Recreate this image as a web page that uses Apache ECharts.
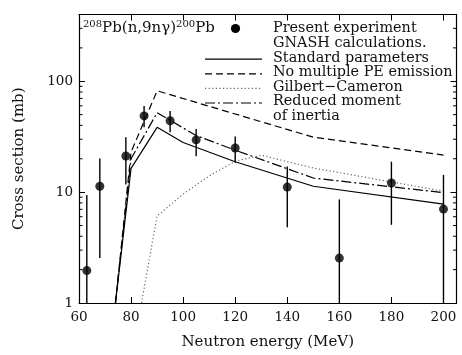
<!DOCTYPE html>
<html><head><meta charset="utf-8">
<script src="https://cdn.jsdelivr.net/npm/echarts@6/dist/echarts.min.js"></script>
<style>html,body{margin:0;padding:0;background:#fff}#c{width:462px;height:355px}</style>
</head><body><div id="c"></div>
<script>
// Measured data (Neutron energy in MeV, cross section in mb)
const energies = [63, 68, 78, 85, 95, 105, 120, 140, 160, 180, 200];
const sigma    = [1.96, 11.3, 21.2, 48.7, 44, 29.6, 25, 11.1, 2.54, 12.1, 7.03];
const errLow   = [0.5, 2.54, 11.7, 38.4, 34.7, 21.1, 18.4, 4.83, 0.5, 5.07, 0.5];
const errHigh  = [9.4, 20.1, 31.3, 59.7, 53.9, 37.1, 31.8, 17, 8.6, 18.8, 14.3];

// GNASH calculations
const stdE = [74, 80, 90, 100, 120, 150, 200];
const stdV = [1, 16.4, 38.4, 28, 18.8, 11.3, 7.8];
const noPeE = [74, 80, 90, 150, 200];
const noPeV = [1, 23, 82, 31.3, 21.6];
const gcE = [84, 90, 100, 110, 120, 130, 150, 200];
const gcV = [1, 6.1, 9.6, 14, 19, 21.5, 16.5, 10.2];
const rmE = [74, 80, 90, 105, 120, 150, 200];
const rmV = [1, 20, 52, 32.4, 23.9, 13.4, 9.9];

// Axis ticks
const xTickLabels = [60, 80, 100, 120, 140, 160, 180, 200];
const yTickLabels = [1, 10, 100];
const yMinorTicks = [2,3,4,5,6,7,8,9,20,30,40,50,60,70,80,90,200,300];

const legendLabels = ['Present experiment','GNASH calculations.','Standard parameters','No multiple PE emission','Gilbert\u2212Cameron','Reduced moment','of inertia'];

const FONT = '"DejaVu Serif", serif';
const INK = '#111';
const chart = echarts.init(document.getElementById('c'), null, {renderer: 'canvas'});

function xAx(pos, showLabel) {
  return {
    type: 'value', min: 60, max: 205, interval: 20, position: pos,
    axisLine: {show: true, onZero: false, lineStyle: {color: '#000', width: 1.2}},
    axisTick: {show: true, inside: true, length: 6, lineStyle: {color: '#000', width: 1}},
    axisLabel: {show: showLabel, fontFamily: FONT, fontSize: 13.5, color: INK, margin: 7,
      showMaxLabel: false,
      formatter: v => xTickLabels.indexOf(v) >= 0 ? String(v) : ''},
    splitLine: {show: false},
    name: showLabel ? 'Neutron energy (MeV)' : '', nameLocation: 'middle', nameGap: 32,
    nameTextStyle: {fontFamily: FONT, fontSize: 15, color: INK}
  };
}
function yAx(pos, showLabel) {
  return {
    type: 'log', logBase: 10, min: 1, max: 400, position: pos,
    axisLine: {show: true, onZero: false, lineStyle: {color: '#000', width: 1.2}},
    axisTick: {show: true, inside: true, length: 6, lineStyle: {color: '#000', width: 1}},
    axisLabel: {show: showLabel, fontFamily: FONT, fontSize: 13.5, color: INK, margin: 6,
      showMaxLabel: false,
      formatter: v => yTickLabels.indexOf(Math.round(v)) >= 0 ? String(Math.round(v)) : ''},
    splitLine: {show: false},
    name: showLabel ? 'Cross section (mb)' : '', nameLocation: 'middle', nameGap: 52,
    nameTextStyle: {fontFamily: FONT, fontSize: 15, color: INK}
  };
}

const pairs = (xs, ys) => xs.map((x, i) => [x, ys[i]]);
const lineSeries = (xs, ys, type, color, w) => ({
  type: 'line', xAxisIndex: 0, yAxisIndex: 0, data: pairs(xs, ys), symbol: 'none',
  lineStyle: {color: color, width: w, type: type}, clip: true, z: 2, silent: true
});

const legendX = 273, legendY0 = 30, legendDy = 14.6, sampleX1 = 205, sampleX2 = 262;
const graphics = [];
legendLabels.forEach((t, i) => {
  graphics.push({type: 'text', left: legendX, top: legendY0 + i * legendDy - 8.3,
    style: {text: t, font: '14.4px ' + FONT, fill: INK}});
});
const sampleStyles = [null, null, {lineDash: null, stroke: '#000'}, {lineDash: [7, 4], stroke: '#000'},
  {lineDash: [1.2, 2.4], stroke: '#666'}, {lineDash: [10, 3, 2, 3], stroke: '#000'}, null];
sampleStyles.forEach((s, i) => {
  if (!s) return;
  const y = legendY0 + i * legendDy;
  graphics.push({type: 'line', shape: {x1: sampleX1, y1: y, x2: sampleX2, y2: y},
    style: {stroke: s.stroke, lineWidth: 1.2, lineDash: s.lineDash}});
});
graphics.push({type: 'circle', shape: {cx: 235.5, cy: 28.5, r: 4.6}, style: {fill: '#000'}});
graphics.push({type: 'text', left: 83, top: 19,
  style: {text: '{s|208}{m|Pb(n,9n\u03b3)}{s|200}{m|Pb}',
    rich: {s: {fontFamily: FONT, fontSize: 10, fill: INK, verticalAlign: 'top', lineHeight: 17},
           m: {fontFamily: FONT, fontSize: 15, fill: INK, verticalAlign: 'bottom', lineHeight: 17}}}});

const option = {
  animation: false,
  backgroundColor: '#fff',
  grid: {left: 79, right: 5.5, top: 14.5, bottom: 46},
  xAxis: [xAx('bottom', true), xAx('top', false)],
  yAxis: [yAx('left', true), yAx('right', false)],
  graphic: graphics,
  series: [
    lineSeries(stdE, stdV, 'solid', '#000', 1.2),
    lineSeries(noPeE, noPeV, [7, 4], '#000', 1.2),
    lineSeries(gcE, gcV, [1.2, 2.4], '#666', 1.2),
    lineSeries(rmE, rmV, [10, 3, 2, 3], '#000', 1.2),
    {
      type: 'custom', xAxisIndex: 0, yAxisIndex: 0, z: 3, silent: true,
      data: energies.map((e, i) => [e, errLow[i], errHigh[i]]),
      encode: {x: 0, y: [1, 2]},
      renderItem: (params, api) => {
        const cs = params.coordSys;
        const x = api.value(0);
        const p0 = api.coord([x, api.value(1)]);
        const p1 = api.coord([x, api.value(2)]);
        const yb = Math.min(p0[1], cs.y + cs.height);
        return {type: 'line', shape: {x1: p1[0], y1: p1[1], x2: p0[0], y2: yb},
          style: {stroke: '#000', lineWidth: 1.4}};
      }
    },
    {
      type: 'scatter', xAxisIndex: 0, yAxisIndex: 0, z: 4, silent: true,
      data: pairs(energies, sigma), symbol: 'circle', symbolSize: 9,
      itemStyle: {color: '#000'}
    },
    {
      type: 'custom', xAxisIndex: 0, yAxisIndex: 0, z: 5, silent: true,
      data: yMinorTicks.map(v => [60, v]),
      renderItem: (params, api) => {
        const cs = params.coordSys;
        const p = api.coord([60, api.value(1)]);
        const L = 3.5;
        return {type: 'group', children: [
          {type: 'line', shape: {x1: cs.x, y1: p[1], x2: cs.x + L, y2: p[1]}, style: {stroke: '#000', lineWidth: 1}},
          {type: 'line', shape: {x1: cs.x + cs.width - L, y1: p[1], x2: cs.x + cs.width, y2: p[1]}, style: {stroke: '#000', lineWidth: 1}}
        ]};
      }
    }
  ]
};
chart.setOption(option);
</script></body></html>
